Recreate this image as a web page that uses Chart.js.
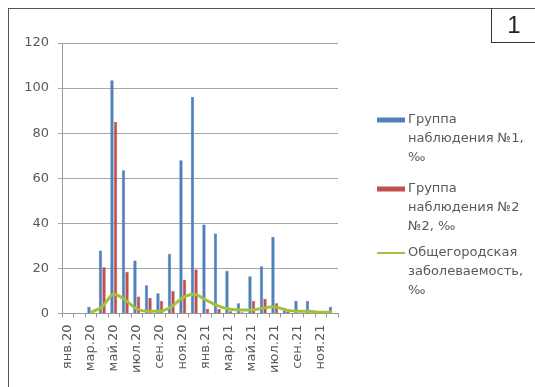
<!DOCTYPE html>
<html>
<head>
<meta charset="utf-8">
<script src="https://cdn.jsdelivr.net/npm/chart.js@4"></script>
<style>
    body { margin: 0; background: #fff; }
    #wrap { position: relative; width: 535px; height: 387px; overflow: hidden; }
    #myChart { position: absolute; left: 0; top: 0; }
    .frameTop { position: absolute; left: 8px; top: 8px; width: 527px; height: 0; border-top: 1.5px solid #555; }
    .frameLeft { position: absolute; left: 8px; top: 8px; width: 0; height: 379px; border-left: 1.5px solid #555; }
    .numBox { position: absolute; left: 491px; top: 8px; width: 44px; height: 34px; border-left: 1px solid #333; border-bottom: 1px solid #333;
        font-family: Arial, 'Liberation Sans', sans-serif; font-size: 24px; color: #222; text-align: center; line-height: 34px; }
</style>
</head>
<body>
<div id="wrap">
    <canvas id="myChart" width="535" height="387"></canvas>
    <div class="frameTop"></div>
    <div class="frameLeft"></div>
    <div class="numBox">1</div>
</div>
<script>
// месяцы янв.20 - дек.21
const months = ['янв.20', 'фев.20', 'мар.20', 'апр.20', 'май.20', 'июн.20', 'июл.20', 'авг.20', 'сен.20', 'окт.20', 'ноя.20', 'дек.20',
    'янв.21', 'фев.21', 'мар.21', 'апр.21', 'май.21', 'июн.21', 'июл.21', 'авг.21', 'сен.21', 'окт.21', 'ноя.21', 'дек.21'];

const group1 = [0, 0, 3, 28, 103.5, 63.5, 23.5, 12.5, 9, 26.5, 68, 96, 39.5, 35.5, 19, 4.5, 16.5, 21, 34, 2.5, 5.5, 5.5, 0, 3];
const group2 = [0, 0, 0, 20.5, 85, 18.5, 7.5, 7, 5.5, 10, 15, 19.5, 2, 2, 1, 0.5, 5.5, 6.5, 4.5, 1, 0, 0, 0, 0];
const cityRate = [null, null, 0.5, 3, 8.5, 6, 2, 1, 1, 3, 7, 8.5, 6, 3.5, 2, 1.5, 1.5, 2.5, 3, 1.5, 1, 1, 0.5, 0.5];

const yTicks = [0, 20, 40, 60, 80, 100, 120];

const legendLines = [
    ['Группа', 'наблюдения №1,', '‰'],
    ['Группа', 'наблюдения №2', '№2, ‰'],
    ['Общегородская', 'заболеваемость,', '‰']
];

const FONT = "'DejaVu Sans', sans-serif";

// легенда справа, с переносом строк
const sideLegend = {
    id: 'sideLegend',
    afterDraw(chart) {
        const ctx = chart.ctx;
        const startY = [120, 189, 253];
        ctx.save();
        ctx.font = '13px ' + FONT;
        ctx.textBaseline = 'middle';
        chart.data.datasets.forEach((ds, i) => {
            const y = startY[i];
            if (ds.type === 'line') {
                ctx.strokeStyle = ds.borderColor;
                ctx.lineWidth = 2;
                ctx.beginPath();
                ctx.moveTo(377, y);
                ctx.lineTo(405, y);
                ctx.stroke();
            } else {
                ctx.fillStyle = ds.backgroundColor;
                ctx.fillRect(377, y - 2.5, 28, 5);
            }
            ctx.fillStyle = '#595959';
            legendLines[i].forEach((line, j) => {
                ctx.fillText(line, 408, y + j * 19);
            });
        });
        ctx.restore();
    }
};

function createChart() {
    const ctx = document.getElementById('myChart').getContext('2d');

    new Chart(ctx, {
        type: 'bar',
        data: {
            labels: months,
            datasets: [{
                label: legendLines[0].join(' '),
                data: group1,
                backgroundColor: '#4F81BD',
                borderColor: '#3B6AA3',
                borderWidth: 0.5,
                barPercentage: 0.95,
                categoryPercentage: 0.62,
                order: 1
            }, {
                label: legendLines[1].join(' '),
                data: group2,
                backgroundColor: '#C0504D',
                borderColor: '#A23E3B',
                borderWidth: 0.5,
                barPercentage: 0.95,
                categoryPercentage: 0.62,
                order: 1
            }, {
                type: 'line',
                label: legendLines[2].join(' '),
                data: cityRate,
                borderColor: '#A2C23E',
                borderWidth: 3,
                pointRadius: 0,
                tension: 0.4,
                cubicInterpolationMode: 'monotone',
                fill: false,
                order: 0
            }]
        },
        options: {
            responsive: false,
            animation: false,
            layout: {
                padding: { left: 9, right: 197, top: 43, bottom: 0 }
            },
            scales: {
                x: {
                    offset: true,
                    grid: {
                        offset: true,
                        drawOnChartArea: false,
                        tickLength: 4,
                        color: '#999'
                    },
                    border: { color: '#999' },
                    ticks: {
                        autoSkip: false,
                        minRotation: 90,
                        maxRotation: 90,
                        padding: 7,
                        color: '#595959',
                        font: { family: FONT, size: 13 },
                        callback: function (value, index) {
                            return index % 2 === 0 ? months[index] : '';
                        }
                    },
                    afterFit: function (scale) {
                        scale.height = 73.5;
                    }
                },
                y: {
                    min: 0,
                    max: 120,
                    afterBuildTicks: function (scale) {
                        scale.ticks = yTicks.map(v => ({ value: v }));
                    },
                    grid: {
                        color: '#A6A6A6',
                        tickLength: 4
                    },
                    border: { color: '#999' },
                    ticks: {
                        padding: 9,
                        color: '#595959',
                        font: { family: FONT, size: 13 }
                    },
                    afterFit: function (scale) {
                        scale.width = 53;
                    }
                }
            },
            plugins: {
                legend: { display: false },
                tooltip: { enabled: false }
            }
        },
        plugins: [sideLegend]
    });
}

document.addEventListener('DOMContentLoaded', createChart);
</script>
</body>
</html>
